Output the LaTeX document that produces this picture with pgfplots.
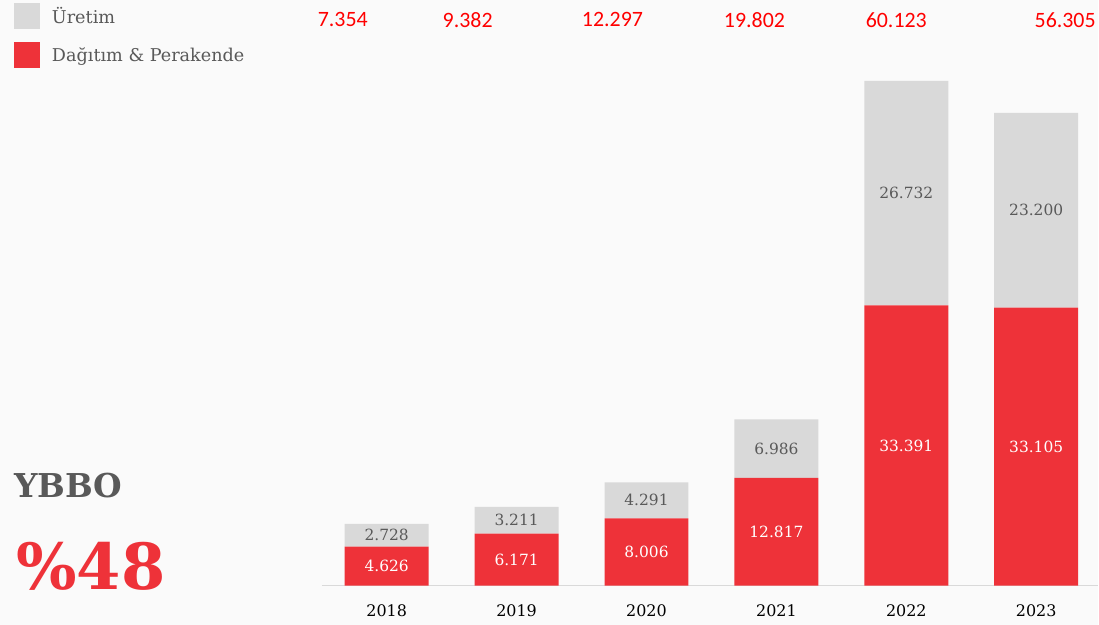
\documentclass[border=0pt]{standalone}
\usepackage{fontspec}
\setmainfont{DejaVu Serif}
\newfontfamily\carlito{Carlito}
\usepackage{pgfplots}
\pgfplotsset{compat=1.18}
\definecolor{myred}{HTML}{EE3239}
\definecolor{mygray}{HTML}{D9D9D9}
\definecolor{txtgray}{HTML}{595959}
\definecolor{bg}{HTML}{FAFAFA}
\begin{document}
\begin{tikzpicture}[x=1bp,y=1bp]
\fill[bg] (0,0) rectangle (1099,625);
\begin{axis}[
  at={(322bp,39bp)}, anchor=south west,
  scale only axis, width=777bp, height=546bp,
  xmin=-0.5, xmax=5.477, ymin=0, ymax=65000,
  ybar stacked, bar width=84bp,
  axis x line=bottom, axis y line=none,
  axis line style={draw=mygray, line width=1.5bp, -},
  xtick={0,1,2,3,4,5}, xticklabels={2018,2019,2020,2021,2022,2023},
  major tick length=0pt,
  xticklabel style={font=\fontsize{16}{18}\selectfont, text=black, yshift=-16bp},
  clip=false,
  reverse legend,
  legend cell align=left,
  legend style={at={(-0.3964,1.0678)}, anchor=north west, draw=none, fill=none,
    inner sep=0pt, outer sep=0pt, row sep=13bp, column sep=12bp,
    font=\fontsize{17.7}{19}\selectfont, text=txtgray,
    nodes={inner xsep=0pt, inner ysep=0pt}},
  legend image code/.code={\path[fill,draw=none] (0bp,-13bp) rectangle (26bp,13bp);},
]
\addplot[fill=myred, draw=none] coordinates {(0,4626)(1,6171)(2,8006)(3,12817)(4,33391)(5,33105)};
\addlegendentry{Dağıtım \& Perakende}
\addplot[fill=mygray, draw=none] coordinates {(0,2728)(1,3211)(2,4291)(3,6986)(4,26732)(5,23200)};
\addlegendentry{Üretim}
\end{axis}
\begin{axis}[
  at={(322bp,39bp)}, anchor=south west,
  scale only axis, width=777bp, height=546bp,
  xmin=-0.5, xmax=5.477, ymin=0, ymax=65000,
  hide axis, clip=false,
]
\addplot[draw=none, mark=none, nodes near coords, point meta=explicit symbolic,
  every node near coord/.style={anchor=center, text=white, font=\fontsize{15.5}{17}\selectfont}]
  table[meta=l] {
x y l
0 2313 4.626
1 3085.5 6.171
2 4003 8.006
3 6408.5 12.817
4 16695.5 33.391
5 16552.5 33.105
};
\addplot[draw=none, mark=none, nodes near coords, point meta=explicit symbolic,
  every node near coord/.style={anchor=center, text=txtgray, font=\fontsize{15.5}{17}\selectfont}]
  table[meta=l] {
x y l
0 5990 2.728
1 7776.5 3.211
2 10151.5 4.291
3 16310 6.986
4 46757 26.732
5 44705 23.200
};
\addplot[draw=none, mark=none, nodes near coords, point meta=explicit symbolic,
  every node near coord/.style={anchor=center, text=red, font=\carlito\fontsize{22}{24}\selectfont}]
  table[meta=l] {
x y l
-0.338 67390 7.354
0.623 67390 9.382
1.738 67390 12.297
2.831 67390 19.802
3.923 67390 60.123
5.223 67390 56.305
};
\end{axis}
\node[anchor=base west, inner sep=0pt, text=txtgray, font=\bfseries\fontsize{33}{36}\selectfont] at (14,127) {YBBO};
\node[anchor=base west, inner sep=0pt, text=myred, font=\bfseries\fontsize{64}{70}\selectfont] at (16,35) {\%48};
\end{tikzpicture}
\end{document}
